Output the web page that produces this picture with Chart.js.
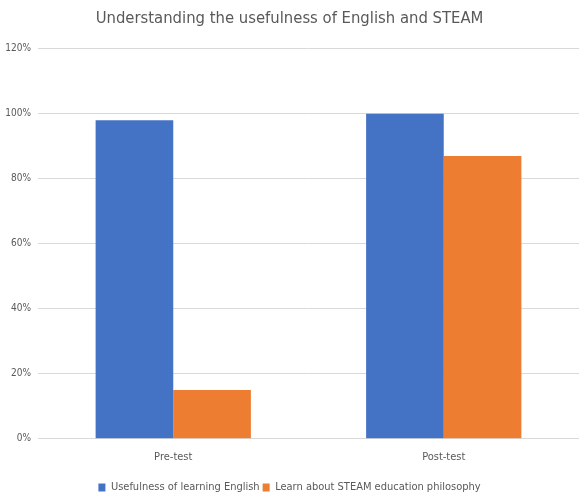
<!DOCTYPE html>
<html>
<head>
<meta charset="utf-8">
<script src="https://cdn.jsdelivr.net/npm/chart.js@4"></script>
<style>
  html, body { margin: 0; padding: 0; background: #ffffff; }
  #wrap { width: 579px; height: 497px; position: relative; }
</style>
</head>
<body>
<div id="wrap"><canvas id="c"></canvas></div>
<script>
const categories = ['Pre-test', 'Post-test'];
const englishUsefulness = [98, 100];
const steamPhilosophy = [15, 87];
const seriesNames = ['Usefulness of learning English', 'Learn about STEAM education philosophy'];
const tickValues = [0, 20, 40, 60, 80, 100, 120];

const FONT = "'Liberation Sans Narrow', 'DejaVu Sans Condensed', 'Liberation Sans', sans-serif";
const TEXT = '#595959';

new Chart(document.getElementById('c'), {
  type: 'bar',
  data: {
    labels: categories,
    datasets: [
      { label: seriesNames[0], data: englishUsefulness, backgroundColor: '#4472c4' },
      { label: seriesNames[1], data: steamPhilosophy, backgroundColor: '#ed7d31' }
    ]
  },
  options: {
    responsive: true,
    maintainAspectRatio: false,
    animation: false,
    layout: { padding: { left: 0, right: 0, top: 7, bottom: -6 } },
    datasets: { bar: { categoryPercentage: 0.574, barPercentage: 1.0 } },
    plugins: {
      title: {
        display: true,
        text: 'Understanding the usefulness of English and STEAM',
        color: TEXT,
        font: { family: FONT, size: 16.5, weight: 'normal' },
        padding: { top: 2, bottom: 20 }
      },
      legend: {
        position: 'bottom',
        labels: {
          color: TEXT,
          font: { family: FONT, size: 11 },
          boxWidth: 7,
          boxHeight: 8,
          padding: 3
        }
      },
      tooltip: { enabled: false }
    },
    scales: {
      x: {
        grid: { display: false },
        border: { display: true, color: '#d9d9d9' },
        afterFit: (axis) => { axis.height += 11; },
        ticks: { color: TEXT, font: { family: FONT, size: 11 }, padding: 4 }
      },
      y: {
        min: 0,
        max: 120,
        afterBuildTicks: (axis) => { axis.ticks = tickValues.map(v => ({ value: v })); },
        afterFit: (axis) => { axis.width = 38; },
        grid: { color: '#d9d9d9', drawTicks: false },
        border: { display: false },
        ticks: {
          color: TEXT,
          font: { family: FONT, size: 10 },
          padding: 7,
          callback: (v) => v + '%'
        }
      }
    }
  }
});
</script>
</body>
</html>
